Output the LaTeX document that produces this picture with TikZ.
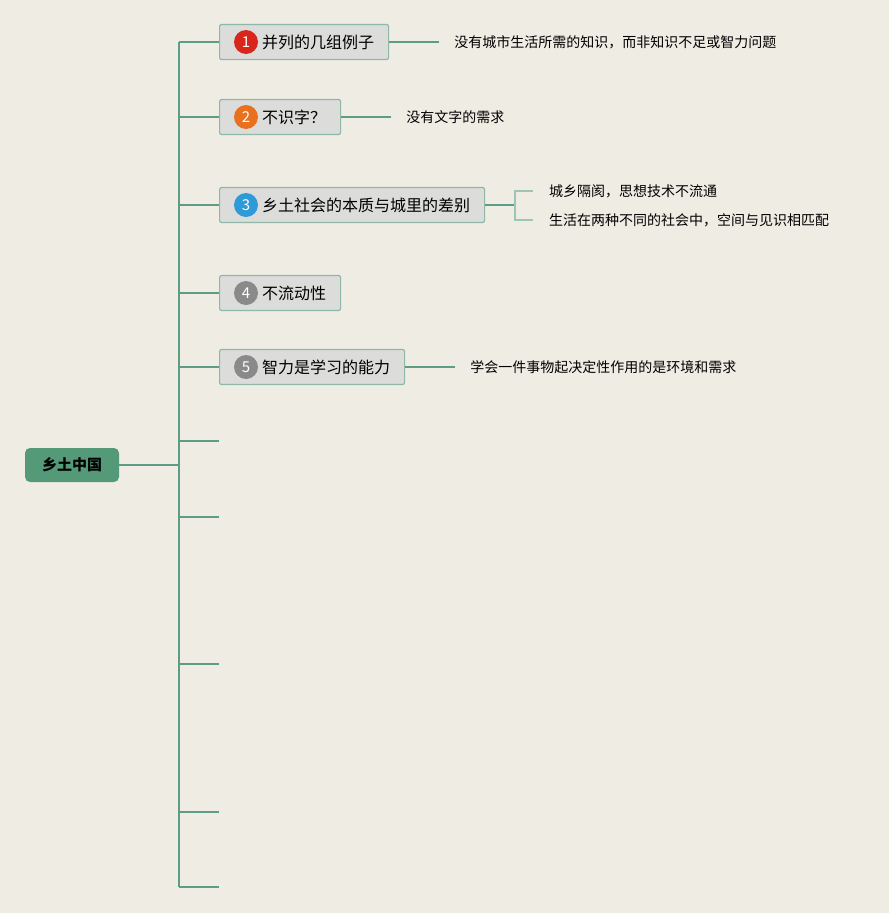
\documentclass[tikz,border=0pt]{standalone}
\usepackage{fontspec}
\setmainfont{Noto Sans CJK SC}
\usetikzlibrary{positioning}

\definecolor{paper}{HTML}{EFECE3}
\definecolor{trunk}{HTML}{5E9C86}
\definecolor{rootgreen}{HTML}{559A78}
\definecolor{boxgray}{HTML}{DCDCDA}
\definecolor{boxedge}{HTML}{90B8A8}
\definecolor{twig}{HTML}{9CC5B4}
\definecolor{dotred}{HTML}{D9261C}
\definecolor{dotorange}{HTML}{E8701E}
\definecolor{dotblue}{HTML}{2E9AD8}
\definecolor{dotgray}{HTML}{8A8A8A}

\tikzset{
  rootbox/.style={fill=rootgreen, rounded corners=5pt, minimum width=94pt, minimum height=34pt,
    font=\fontsize{15}{15}\selectfont\bfseries, text=black},
  topicbox/.style={anchor=west, fill=boxgray, draw=boxedge, line width=1.2pt, rounded corners=2pt,
    minimum height=35pt, inner xsep=14.5pt, font=\fontsize{16}{16}\selectfont},
  numdot/.style={circle, fill=#1, text=white, minimum size=24pt, inner sep=0pt,
    font=\fontsize{15}{15}\selectfont},
  leaf/.style={anchor=west, inner xsep=15pt, font=\fontsize{14}{14}\selectfont},
  branch/.style={draw=trunk, line width=1.2pt},
  subbranch/.style={draw=twig, line width=1.2pt}
}

\begin{document}
\begin{tikzpicture}[x=1pt,y=-1pt]

% Background and bounding box
\fill [paper] (0,0) rectangle (889,913);
\useasboundingbox (0,0) rectangle (889,913);

% Central topic
\node [rootbox] (root) at (72,465) {乡土中国};

% Trunk
\coordinate (top) at (179,42);
\coordinate (bot) at (179,887);
\coordinate (hub) at (179,465);
\draw [draw=trunk, line width=2pt] (top) -- (bot);
\draw [branch] (root.east) -- (hub);

% Main topics
\node [topicbox] (t1) at (219,42) {\hspace{28pt}并列的几组例子};
\node [topicbox] (t2) at (219,117) {\hspace{28pt}不识字？};
\node [topicbox] (t3) at (219,205) {\hspace{28pt}乡土社会的本质与城里的差别};
\node [topicbox] (t4) at (219,293) {\hspace{28pt}不流动性};
\node [topicbox] (t5) at (219,367) {\hspace{28pt}智力是学习的能力};

    \node [numdot=dotred] (c1) at ([xshift=27pt]t1.west) {1};
    \node [numdot=dotorange] (c2) at ([xshift=27pt]t2.west) {2};
    \node [numdot=dotblue] (c3) at ([xshift=27pt]t3.west) {3};
    \node [numdot=dotgray] (c4) at ([xshift=27pt]t4.west) {4};
    \node [numdot=dotgray] (c5) at ([xshift=27pt]t5.west) {5};

\draw [branch] (179,42) -- (t1.west);
\draw [branch] (179,117) -- (t2.west);
\draw [branch] (179,205) -- (t3.west);
\draw [branch] (179,293) -- (t4.west);
\draw [branch] (179,367) -- (t5.west);

% Empty branches
\coordinate (e1) at (219,441);
\coordinate (e2) at (219,517);
\coordinate (e3) at (219,664);
\coordinate (e4) at (219,812);
\coordinate (e5) at (219,887);
\draw [branch] (179,441) -- (e1);
\draw [branch] (179,517) -- (e2);
\draw [branch] (179,664) -- (e3);
\draw [branch] (179,812) -- (e4);
\draw [branch] (179,887) -- (e5);

% Details
\node [leaf, right=50pt of t1] (l1) {没有城市生活所需的知识，而非知识不足或智力问题};
\node [leaf, right=50pt of t2] (l2) {没有文字的需求};
\node [leaf, right=50pt of t5] (l5) {学会一件事物起决定性作用的是环境和需求};
\draw [branch] (t1.east) -- (l1.west);
\draw [branch] (t2.east) -- (l2.west);
\draw [branch] (t5.east) -- (l5.west);

\coordinate (j3) at (515,205);
\node [leaf, inner xsep=16pt] (l3a) at (533,191) {城乡隔阂，思想技术不流通};
\node [leaf, inner xsep=16pt] (l3b) at (533,220) {生活在两种不同的社会中，空间与见识相匹配};
\draw [branch] (t3.east) -- (j3);
\draw [subbranch] (j3) |- (l3a.west);
\draw [subbranch] (j3) |- (l3b.west);

\end{tikzpicture}
\end{document}
